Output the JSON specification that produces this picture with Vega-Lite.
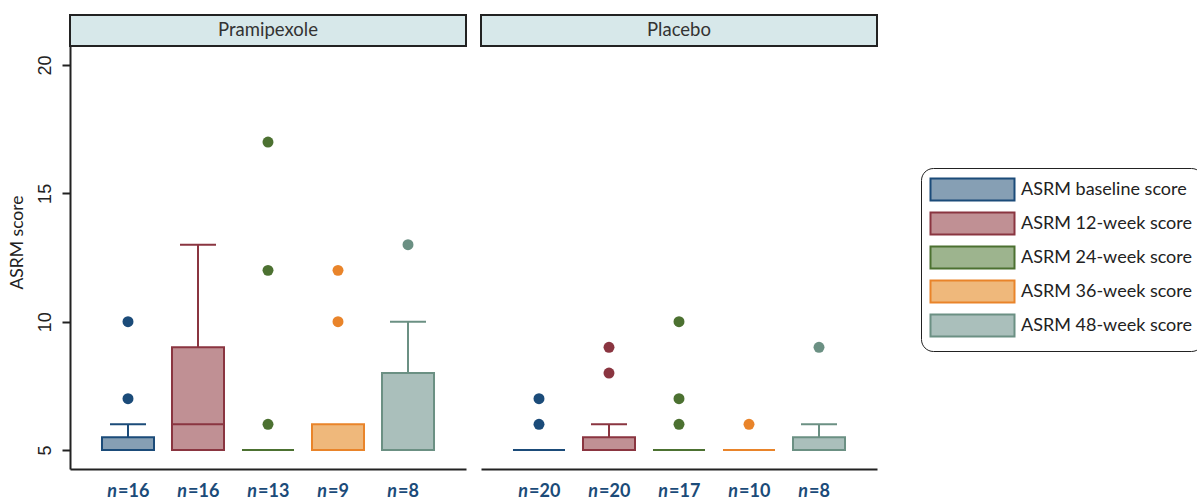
{
  "$schema": "https://vega.github.io/schema/vega-lite/v6.json",
  "padding": {"left": 8, "top": 14, "right": 0, "bottom": 0},
  "bounds": "flush",
  "config": {
    "font": "Lato",
    "view": {"stroke": null},
    "axis": {"grid": false, "domainColor": "#222", "domainWidth": 2, "tickColor": "#222", "tickWidth": 2, "labelColor": "#222", "titleColor": "#222", "titleFont": "Lato"},
    "legend": {"symbolOpacity": 1, "labelFontSize": 18, "labelColor": "#222", "labelFont": "Lato", "labelLimit": 400}
  },
  "data": {"values": [
    {"kind": "box", "treat": "Pramipexole", "time": "ASRM baseline score", "q1": 5, "med": 5, "q3": 5.5, "hi": 6, "n": 16, "nlab": "=16"},
    {"kind": "box", "treat": "Pramipexole", "time": "ASRM 12-week score", "q1": 5, "med": 6, "q3": 9, "hi": 13, "n": 16, "nlab": "=16"},
    {"kind": "box", "treat": "Pramipexole", "time": "ASRM 24-week score", "q1": 5, "med": 5, "q3": 5, "hi": 5, "n": 13, "nlab": "=13"},
    {"kind": "box", "treat": "Pramipexole", "time": "ASRM 36-week score", "q1": 5, "med": 5, "q3": 6, "hi": 6, "n": 9, "nlab": "=9"},
    {"kind": "box", "treat": "Pramipexole", "time": "ASRM 48-week score", "q1": 5, "med": 5, "q3": 8, "hi": 10, "n": 8, "nlab": "=8"},
    {"kind": "box", "treat": "Placebo", "time": "ASRM baseline score", "q1": 5, "med": 5, "q3": 5, "hi": 5, "n": 20, "nlab": "=20"},
    {"kind": "box", "treat": "Placebo", "time": "ASRM 12-week score", "q1": 5, "med": 5, "q3": 5.5, "hi": 6, "n": 20, "nlab": "=20"},
    {"kind": "box", "treat": "Placebo", "time": "ASRM 24-week score", "q1": 5, "med": 5, "q3": 5, "hi": 5, "n": 17, "nlab": "=17"},
    {"kind": "box", "treat": "Placebo", "time": "ASRM 36-week score", "q1": 5, "med": 5, "q3": 5, "hi": 5, "n": 10, "nlab": "=10"},
    {"kind": "box", "treat": "Placebo", "time": "ASRM 48-week score", "q1": 5, "med": 5, "q3": 5.5, "hi": 6, "n": 8, "nlab": "=8"},
    {"kind": "out", "treat": "Pramipexole", "time": "ASRM baseline score", "value": 7},
    {"kind": "out", "treat": "Pramipexole", "time": "ASRM baseline score", "value": 10},
    {"kind": "out", "treat": "Pramipexole", "time": "ASRM 24-week score", "value": 6},
    {"kind": "out", "treat": "Pramipexole", "time": "ASRM 24-week score", "value": 12},
    {"kind": "out", "treat": "Pramipexole", "time": "ASRM 24-week score", "value": 17},
    {"kind": "out", "treat": "Pramipexole", "time": "ASRM 36-week score", "value": 10},
    {"kind": "out", "treat": "Pramipexole", "time": "ASRM 36-week score", "value": 12},
    {"kind": "out", "treat": "Pramipexole", "time": "ASRM 48-week score", "value": 13},
    {"kind": "out", "treat": "Placebo", "time": "ASRM baseline score", "value": 6},
    {"kind": "out", "treat": "Placebo", "time": "ASRM baseline score", "value": 7},
    {"kind": "out", "treat": "Placebo", "time": "ASRM 12-week score", "value": 8},
    {"kind": "out", "treat": "Placebo", "time": "ASRM 12-week score", "value": 9},
    {"kind": "out", "treat": "Placebo", "time": "ASRM 24-week score", "value": 6},
    {"kind": "out", "treat": "Placebo", "time": "ASRM 24-week score", "value": 7},
    {"kind": "out", "treat": "Placebo", "time": "ASRM 24-week score", "value": 10},
    {"kind": "out", "treat": "Placebo", "time": "ASRM 36-week score", "value": 6},
    {"kind": "out", "treat": "Placebo", "time": "ASRM 48-week score", "value": 9}
  ]},
  "facet": {"column": {"field": "treat", "type": "nominal", "sort": ["Pramipexole", "Placebo"], "header": null}},
  "spacing": 15,
  "spec": {
    "width": 396,
    "height": 454,
    "layer": [
      {
        "transform": [{"filter": "datum.kind == 'box' && datum.time == 'ASRM baseline score'"}],
        "mark": {"type": "rect", "fill": "#d7e8ea", "stroke": "#222", "strokeWidth": 2},
        "encoding": {
          "y": {"datum": 20.74, "type": "quantitative", "scale": {"domain": [4.26, 21.95], "nice": false, "zero": false}, "axis": {"values": [5, 10, 15, 20], "title": "ASRM score", "labelAngle": -90, "labelFont": "Liberation Sans", "labelFontSize": 18, "titleFontSize": 17.5, "titleFontWeight": "normal", "tickSize": 8, "labelPadding": 8, "titlePadding": 10}},
          "y2": {"datum": 21.95}
        }
      },
      {
        "transform": [{"filter": "datum.kind == 'box' && datum.time == 'ASRM baseline score'"}],
        "mark": {"type": "text", "fontSize": 18.5, "color": "#333", "baseline": "middle"},
        "encoding": {
          "y": {"datum": 21.35, "type": "quantitative"},
          "text": {"field": "treat"}
        }
      },
      {
        "transform": [{"filter": "datum.kind == 'box' && datum.hi > datum.q3"}],
        "mark": {"type": "rule", "strokeWidth": 2},
        "encoding": {
          "x": {"field": "time", "type": "nominal", "sort": ["ASRM baseline score", "ASRM 12-week score", "ASRM 24-week score", "ASRM 36-week score", "ASRM 48-week score"], "scale": {"paddingInner": 0.257, "paddingOuter": 0.457}, "axis": {"labels": false, "ticks": false, "title": null}},
          "y": {"field": "q3", "type": "quantitative", "title": "ASRM score"},
          "y2": {"field": "hi"},
          "color": {"field": "time", "type": "nominal", "scale": {"domain": ["ASRM 48-week score", "ASRM 36-week score", "ASRM 24-week score", "ASRM 12-week score", "ASRM baseline score"], "range": ["#6b9083", "#e9842a", "#4c7131", "#8a3540", "#1b4b79"]}, "legend": null}
        }
      },
      {
        "transform": [{"filter": "datum.kind == 'box' && datum.hi > datum.q3"}],
        "mark": {"type": "tick", "size": 36, "thickness": 2, "opacity": 1},
        "encoding": {
          "x": {"field": "time", "type": "nominal", "sort": ["ASRM baseline score", "ASRM 12-week score", "ASRM 24-week score", "ASRM 36-week score", "ASRM 48-week score"]},
          "y": {"field": "hi", "type": "quantitative", "title": "ASRM score"},
          "color": {"field": "time", "type": "nominal", "legend": null}
        }
      },
      {
        "transform": [{"filter": "datum.kind == 'box'"}],
        "mark": {"type": "bar", "strokeWidth": 2, "fillOpacity": 1},
        "encoding": {
          "x": {"field": "time", "type": "nominal", "sort": ["ASRM baseline score", "ASRM 12-week score", "ASRM 24-week score", "ASRM 36-week score", "ASRM 48-week score"]},
          "y": {"field": "q1", "type": "quantitative", "title": "ASRM score"},
          "y2": {"field": "q3"},
          "fill": {"field": "time", "type": "nominal", "scale": {"domain": ["ASRM baseline score", "ASRM 12-week score", "ASRM 24-week score", "ASRM 36-week score", "ASRM 48-week score"], "range": ["#869fb4", "#c09094", "#9db48e", "#efb87b", "#aabfbb"]}, "legend": {"title": null, "orient": "none", "legendX": 851, "legendY": 153, "symbolType": "M-4,-1.05H4V1.05H-4Z", "symbolSize": 441, "symbolStrokeWidth": 2, "symbolOffset": 30, "labelOffset": 37, "rowPadding": 3, "padding": 10, "strokeColor": "#222", "cornerRadius": 12}},
          "stroke": {"field": "time", "type": "nominal", "scale": {"domain": ["ASRM baseline score", "ASRM 12-week score", "ASRM 24-week score", "ASRM 36-week score", "ASRM 48-week score"], "range": ["#1b4b79", "#8a3540", "#4c7131", "#e9842a", "#6b9083"]}, "legend": {"title": null, "orient": "none", "legendX": 851, "legendY": 153, "symbolType": "M-4,-1.05H4V1.05H-4Z", "symbolSize": 441, "symbolStrokeWidth": 2, "symbolOffset": 30, "labelOffset": 37, "rowPadding": 3, "padding": 10, "strokeColor": "#222", "cornerRadius": 12}}
        }
      },
      {
        "transform": [{"filter": "datum.kind == 'box'"}],
        "mark": {"type": "tick", "size": 52, "thickness": 2, "opacity": 1},
        "encoding": {
          "x": {"field": "time", "type": "nominal", "sort": ["ASRM baseline score", "ASRM 12-week score", "ASRM 24-week score", "ASRM 36-week score", "ASRM 48-week score"]},
          "y": {"field": "med", "type": "quantitative", "title": "ASRM score"},
          "color": {"field": "time", "type": "nominal", "legend": null}
        }
      },
      {
        "transform": [{"filter": "datum.kind == 'out'"}],
        "mark": {"type": "circle", "size": 120, "opacity": 1},
        "encoding": {
          "x": {"field": "time", "type": "nominal", "sort": ["ASRM baseline score", "ASRM 12-week score", "ASRM 24-week score", "ASRM 36-week score", "ASRM 48-week score"]},
          "y": {"field": "value", "type": "quantitative", "title": "ASRM score"},
          "color": {"field": "time", "type": "nominal", "legend": null}
        }
      },
      {
        "transform": [{"filter": "datum.kind == 'box'"}],
        "mark": {"type": "text", "fontSize": 18, "fontWeight": "bold", "fontStyle": "italic", "color": "#1b4b79", "align": "right", "dx": -11, "baseline": "middle"},
        "encoding": {
          "x": {"field": "time", "type": "nominal", "sort": ["ASRM baseline score", "ASRM 12-week score", "ASRM 24-week score", "ASRM 36-week score", "ASRM 48-week score"]},
          "y": {"datum": 3.36, "type": "quantitative"},
          "text": {"value": "n"}
        }
      },
      {
        "transform": [{"filter": "datum.kind == 'box'"}],
        "mark": {"type": "text", "fontSize": 18, "fontWeight": "bold", "color": "#1b4b79", "align": "left", "dx": -10, "baseline": "middle"},
        "encoding": {
          "x": {"field": "time", "type": "nominal", "sort": ["ASRM baseline score", "ASRM 12-week score", "ASRM 24-week score", "ASRM 36-week score", "ASRM 48-week score"]},
          "y": {"datum": 3.36, "type": "quantitative"},
          "text": {"field": "nlab"}
        }
      }
    ]
  }
}
